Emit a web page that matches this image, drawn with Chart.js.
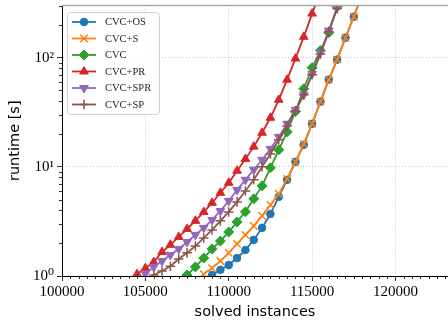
<!DOCTYPE html>
<html><head><meta charset="utf-8">
<script src="https://cdn.jsdelivr.net/npm/chart.js@4.4.0/dist/chart.umd.min.js"></script>
<style>html,body{margin:0;padding:0;background:#fff;overflow:hidden;}#wrap{width:448px;height:324px;position:relative;}</style>
</head><body><div id="wrap"><canvas id="c"></canvas></div>
<script>
// ---- data ----
const seriesNames = ['CVC+OS','CVC+S','CVC','CVC+PR','CVC+SPR','CVC+SP'];
const xOS  = [108500,109000,109500,110000,110500,111000,111500,112000,112500,113000,113500,114000,114500,115000,115500,116000,116500,117000,117500,118000];
const yOS  = [0.85,1.02,1.14,1.26,1.46,1.73,2.14,2.76,3.7,5.3,7.6,11.1,15.9,24.8,39.5,62.9,95.8,152,237,380];
const xS   = [108000,108500,109000,109500,110000,110500,111000,111500,112000,112500,113000,113500,114000,114500,115000,115500,116000,116500,117000,117500,118000];
const yS   = [0.85,1.04,1.18,1.37,1.63,1.97,2.38,2.87,3.55,4.48,5.65,7.75,11.1,16.2,24.8,39.5,62.9,95.8,152,237,380];
const xCVC = [107000,107500,108000,108500,109000,109500,110000,110500,111000,111500,112000,112500,113000,113500,114000,114500,115000,115500,116000,116500,117000];
const yCVC = [0.85,1.02,1.21,1.46,1.77,2.09,2.53,3.13,3.87,5.09,6.69,9.78,14.3,20.9,32.0,51.9,80.9,116,169,292,450];
const xPR  = [104000,104500,105000,105500,106000,106500,107000,107500,108000,108500,109000,109500,110000,110500,111000,111500,112000,112500,113000,113500,114000,114500,115000,115500];
const yPR  = [0.85,1.04,1.18,1.34,1.66,1.93,2.28,2.70,3.2,3.86,4.68,5.78,7.13,9.2,11.8,15.3,20.5,28.1,41.1,62.8,98,155,253,400];
const xSPR = [104500,105000,105500,106000,106500,107000,107500,108000,108500,109000,109500,110000,110500,111000,111500,112000,112500,113000,113500,114000,114500,115000,115500,116000,116500,117000];
const ySPR = [0.85,1.05,1.21,1.37,1.56,1.77,2.05,2.38,2.76,3.26,3.94,4.87,6.14,7.6,9.4,11.6,14.6,18.8,24.8,33.3,45.7,71,111,177,286,450];
const xSP  = [105000,105500,106000,106500,107000,107500,108000,108500,109000,109500,110000,110500,111000,111500,112000,112500,113000,113500,114000,114500,115000,115500,116000,116500,117000];
const ySP  = [0.85,1.02,1.11,1.23,1.43,1.63,1.88,2.23,2.64,3.2,3.86,4.77,6.0,7.6,10.0,13.1,17.7,23.7,32.6,45.7,69.8,108,173,280,450];

const xTicks = [100000,105000,110000,115000,120000];
const xMinorStep = 500;
const yTicks = [1,10,100];
const yTickLabels = ['10⁰','10¹','10²'];
const yMinorMult = [2,3,4,5,6,7,8,9];
const xRange = [100000,123150];
const yRange = [1,300];
const xTitle = 'solved instances';
const yTitle = 'runtime [s]';

// ---- styles ----
const colors = ['#1f77b4','#ff7f0e','#2ca02c','#d62728','#9467bd','#8c564b'];
const styles = [
  {pointStyle:'circle', radius:3.8, bw:1, rot:0},
  {pointStyle:'crossRot', radius:5.2, bw:1.5, rot:0},
  {pointStyle:'rectRot', radius:5, bw:1, rot:0},
  {pointStyle:'triangle', radius:5, bw:1, rot:0},
  {pointStyle:'triangle', radius:5, bw:1, rot:180},
  {pointStyle:'cross', radius:4.8, bw:1.5, rot:0}
];
const xs = [xOS,xS,xCVC,xPR,xSPR,xSP];
const ys = [yOS,yS,yCVC,yPR,ySPR,ySP];

const datasets = seriesNames.map((n,i)=>({
  label:n,
  data: xs[i].map((x,k)=>({x:x,y:ys[i][k]})),
  borderColor: colors[i],
  backgroundColor: colors[i],
  pointBackgroundColor: colors[i],
  pointBorderColor: colors[i],
  pointStyle: styles[i].pointStyle,
  pointRadius: styles[i].radius,
  pointBorderWidth: styles[i].bw,
  pointRotation: styles[i].rot,
  pointHoverRadius: styles[i].radius,
  borderWidth: 1.8,
  tension: 0,
  fill:false,
  order: seriesNames.length - i
}));

const serif = "'Liberation Serif','DejaVu Serif',serif";
const sans = "'DejaVu Sans',sans-serif";

const minorTicks = {
  id:'minorTicks',
  afterDraw(chart){
    const {ctx, chartArea:a, scales:{x,y}} = chart;
    ctx.save();
    ctx.strokeStyle='#000'; ctx.lineWidth=0.8;
    ctx.beginPath();
    for (let v = xRange[0]; v <= xRange[1]; v += xMinorStep){
      if (xTicks.includes(v)) continue;
      const px = Math.round(x.getPixelForValue(v))+0.5;
      ctx.moveTo(px, a.bottom); ctx.lineTo(px, a.bottom+3);
    }
    yTicks.forEach(t=>{
      yMinorMult.forEach(m=>{
        const v = t*m; if (v>yRange[1]) return;
        const py = Math.round(y.getPixelForValue(v))+0.5;
        ctx.moveTo(a.left-3, py); ctx.lineTo(a.left, py);
      });
    });
    ctx.stroke();
    // top frame line
    ctx.strokeStyle='#a8a8a8'; ctx.lineWidth=1.6;
    ctx.beginPath(); ctx.moveTo(a.left, a.top); ctx.lineTo(a.right, a.top); ctx.stroke();
    ctx.restore();
  }
};

const legendBox = {
  id:'legendBox',
  afterDraw(chart){
    const ctx = chart.ctx;
    const a = chart.chartArea;
    const bx = a.left+5.5, by = a.top+7, bw = 92, bh = 102, r = 3;
    ctx.save();
    ctx.beginPath();
    ctx.moveTo(bx+r,by); ctx.lineTo(bx+bw-r,by); ctx.arcTo(bx+bw,by,bx+bw,by+r,r);
    ctx.lineTo(bx+bw,by+bh-r); ctx.arcTo(bx+bw,by+bh,bx+bw-r,by+bh,r);
    ctx.lineTo(bx+r,by+bh); ctx.arcTo(bx,by+bh,bx,by+bh-r,r);
    ctx.lineTo(bx,by+r); ctx.arcTo(bx,by,bx+r,by,r); ctx.closePath();
    ctx.fillStyle='rgba(255,255,255,0.85)'; ctx.fill();
    ctx.strokeStyle='#d0d0d0'; ctx.lineWidth=1; ctx.stroke();
    chart.data.datasets.forEach((ds,i)=>{
      const cy = by + 9.5 + i*16.5;
      ctx.strokeStyle = ds.borderColor; ctx.lineWidth = ds.borderWidth;
      ctx.beginPath(); ctx.moveTo(bx+4.5, cy); ctx.lineTo(bx+28.5, cy); ctx.stroke();
      ctx.fillStyle = ds.pointBackgroundColor; ctx.strokeStyle = ds.pointBorderColor;
      ctx.lineWidth = ds.pointBorderWidth;
      Chart.helpers.drawPoint(ctx, {pointStyle: ds.pointStyle, radius: ds.pointRadius, rotation: ds.pointRotation, borderWidth: ds.pointBorderWidth}, bx+16.5, cy);
      ctx.fillStyle='#222'; ctx.font = "10.5px "+serif; ctx.textBaseline='middle'; ctx.textAlign='left';
      ctx.fillText(ds.label, bx+37.5, cy+0.5);
    });
    ctx.restore();
  }
};

new Chart(document.getElementById('c'), {
  type:'line',
  data:{datasets},
  options:{
    responsive:true, maintainAspectRatio:false, animation:false,
    devicePixelRatio:1,
    layout:{padding:{top:5.5,left:0,right:0,bottom:0}, autoPadding:false},
    plugins:{legend:{display:false}, tooltip:{enabled:false}},
    scales:{
      x:{
        type:'linear', min:xRange[0], max:xRange[1],
        afterBuildTicks(s){ s.ticks = xTicks.map(v=>({value:v})); },
        afterFit(s){ s.height = 48; s.paddingLeft=0; s.paddingRight=0; },
        ticks:{ callback:(v)=>String(v), font:{family:serif,size:15}, color:'#000', padding:2, maxRotation:0, autoSkip:false },
        grid:{ color:(c)=> (c.tick && c.tick.value===xRange[0]) ? 'rgba(0,0,0,0)' : '#b8b8b8', lineWidth:0.8, tickColor:'#000', tickLength:5, tickWidth:0.8 },
        border:{ color:'#000', width:1, dash:[1,2] },
        title:{ display:true, text:xTitle, font:{family:sans,size:14.5}, color:'#000', padding:{top:0,bottom:3.3} }
      },
      y:{
        type:'logarithmic', min:yRange[0], max:yRange[1],
        afterBuildTicks(s){ s.ticks = yTicks.map(v=>({value:v})); },
        afterFit(s){ s.width = 62; s.paddingTop=0; s.paddingBottom=0; },
        ticks:{ callback:(v)=>{ const i=yTicks.indexOf(v); return i>=0? yTickLabels[i] : ''; }, font:{family:serif,size:15}, color:'#000', padding:3, autoSkip:false },
        grid:{ color:(c)=> (c.tick && c.tick.value===yRange[0]) ? 'rgba(0,0,0,0)' : '#b8b8b8', lineWidth:0.8, tickColor:'#000', tickLength:5, tickWidth:0.8 },
        border:{ color:'#000', width:1, dash:[1,2] },
        title:{ display:true, text:yTitle, font:{family:sans,size:14.5}, color:'#000', padding:{top:6.3,bottom:0} }
      }
    }
  },
  plugins:[minorTicks, legendBox]
});
</script></body></html>
